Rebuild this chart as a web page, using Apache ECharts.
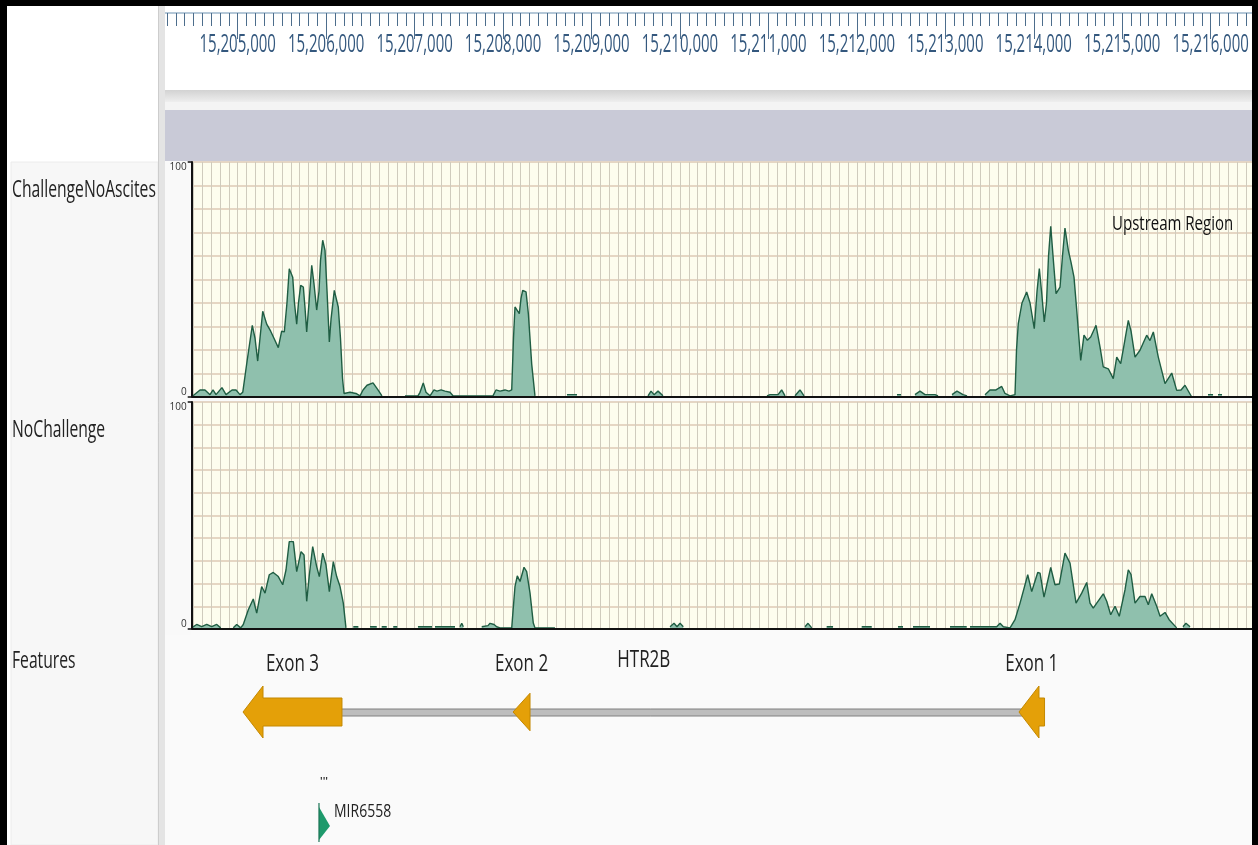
<!DOCTYPE html>
<html>
<head>
<meta charset="utf-8">
<title>HTR2B coverage</title>
<script src="https://cdn.jsdelivr.net/npm/echarts@6/dist/echarts.min.js"></script>
<style>
html, body { margin: 0; padding: 0; background: #fafafa; }
#coverageChart { width: 1258px; height: 845px; }
</style>
</head>
<body>
<div id="coverageChart"></div>
<script>
// read coverage (0-100) along the HTR2B locus, [position bp, coverage]; null = no reads
var challengeNoAscites = [
  [15204495, 0.5], [15204574, 3], [15204630, 3], [15204687, 1], [15204721, 3], [15204755, 1],
  [15204822, 4], [15204868, 1], [15204936, 3], [15204981, 3], [15205026, 1], [15205057, 2],
  [15205105, 15], [15205165, 30.5], [15205196, 25], [15205226, 15.3], [15205252, 25], [15205283, 36.5],
  [15205328, 31], [15205373, 28], [15205410, 25], [15205459, 21], [15205497, 28], [15205527, 27.7],
  [15205557, 40], [15205583, 54.6], [15205622, 51], [15205642, 40], [15205667, 31], [15205687, 40],
  [15205712, 47.5], [15205742, 46.8], [15205761, 38], [15205780, 27.7], [15205806, 40], [15205837, 56],
  [15205863, 48], [15205893, 37], [15205919, 45], [15205936, 58], [15205961, 66.7], [15205987, 62.4],
  [15206010, 45], [15206036, 23.4], [15206055, 33], [15206092, 45.4], [15206137, 38.3], [15206162, 25],
  [15206185, 8], [15206202, 1.5], [15206270, 2], [15206337, 1.5], [15206383, 0.5], [15206417, 3],
  [15206462, 5], [15206530, 6], [15206586, 3], [15206631, 0.5], [15206700, null],
  [15206891, 0.5], [15207038, 0.5], [15207061, 2], [15207098, 6], [15207129, 2], [15207174, 0.5],
  [15207219, 3], [15207253, 2.5], [15207299, 3], [15207344, 2.5], [15207400, 2], [15207434, 0.5],
  [15207739, 0.5], [15207886, 0.5], [15207920, 3], [15207966, 2.5], [15208022, 3], [15208067, 2.5],
  [15208098, 3], [15208118, 25], [15208135, 38.3], [15208158, 37], [15208184, 35.5], [15208203, 42],
  [15208222, 45.4], [15208260, 44.7], [15208286, 35.5], [15208324, 14], [15208361, 0.5], [15208500, null],
  [15208723, 1], [15208836, 1], [15209000, null],
  [15209639, 0.5], [15209673, 2.5], [15209707, 1], [15209752, 2.5], [15209808, 0.5], [15210000, null],
  [15210984, 0.5], [15211018, 1], [15211109, 1], [15211150, 3], [15211188, 0.5], [15211250, null],
  [15211301, 0.5], [15211357, 3], [15211403, 0.5], [15211800, null],
  [15212454, 1], [15212499, 1], [15212580, null],
  [15212657, 1], [15212714, 2.5], [15212771, 1], [15212884, 1], [15212918, 0.5], [15213000, null],
  [15213076, 1], [15213132, 2.5], [15213200, 1], [15213246, 0.5], [15213350, null],
  [15213449, 1], [15213505, 3], [15213573, 3], [15213638, 4.5], [15213675, 1.5], [15213732, 0.5],
  [15213788, 1], [15213805, 20], [15213825, 31.2], [15213867, 40], [15213920, 44.7], [15213958, 40],
  [15214006, 29.1], [15214037, 45], [15214063, 54.6], [15214088, 45], [15214119, 31.9], [15214144, 40],
  [15214167, 60], [15214192, 72.6], [15214218, 60], [15214252, 44], [15214297, 46.8], [15214325, 60],
  [15214353, 71.9], [15214391, 62.4], [15214421, 57.4], [15214455, 51], [15214486, 36.9], [15214531, 15.6],
  [15214568, 26.3], [15214606, 24.1], [15214644, 25.5], [15214704, 30.5], [15214749, 21.3], [15214786, 12.8],
  [15214843, 12], [15214899, 7.8], [15214938, 17], [15214983, 14.2], [15215020, 22], [15215069, 32.6],
  [15215100, 28], [15215145, 17], [15215201, 19.9], [15215277, 26.3], [15215314, 24], [15215352, 27.7],
  [15215408, 17], [15215484, 5.7], [15215560, 10.2], [15215616, 2.8], [15215665, 3], [15215710, 5],
  [15215786, 0], [15215900, null],
  [15215970, 1], [15216027, 1], [15216050, null], [15216083, 1], [15216128, 1]
]

var noChallenge = [
  [15204480, 0.5], [15204536, 2], [15204593, 1], [15204650, 2], [15204706, 1], [15204763, 2],
  [15204808, 0.5], [15204880, null],
  [15204950, 0.5], [15204989, 2], [15205034, 0.5], [15205063, 2], [15205120, 8.5], [15205176, 13.2],
  [15205215, 7], [15205271, 18.7], [15205309, 15.8], [15205357, 23.9], [15205402, 24.9], [15205459, 23.1],
  [15205509, 19.5], [15205546, 26], [15205583, 38.5], [15205629, 38.5], [15205667, 25.3], [15205716, 34.1],
  [15205750, 32.6], [15205780, 12.2], [15205810, 23.9], [15205848, 36.3], [15205893, 27.5], [15205923, 23.1],
  [15205961, 33.4], [15205998, 28.3], [15206036, 16.5], [15206081, 29.7], [15206119, 23.1], [15206157, 18.7],
  [15206194, 11.4], [15206224, 0.5], [15206260, null],
  [15206307, 1], [15206364, 1], [15206420, null], [15206496, 1], [15206572, 1], [15206600, null],
  [15206628, 1], [15206685, 1], [15206720, null], [15206759, 1], [15206804, 1], [15206900, null],
  [15207038, 1], [15207197, 1], [15207215, null], [15207231, 1], [15207457, 1], [15207490, null],
  [15207513, 1], [15207533, 2.5], [15207551, 1], [15207650, null],
  [15207759, 1], [15207830, 1.5], [15207853, 2.5], [15207898, 2], [15207928, 1], [15207966, 0.5],
  [15208098, 0.5], [15208113, 8], [15208135, 18.7], [15208161, 23.4], [15208192, 20.9], [15208237, 27.2],
  [15208267, 25.3], [15208305, 15.8], [15208342, 2.6], [15208361, 0.5], [15208587, 0.5], [15208700, null],
  [15209888, 1], [15209933, 2.5], [15209967, 1], [15210001, 2.5], [15210038, 1], [15210500, null],
  [15211414, 1], [15211448, 2.5], [15211490, 0.5], [15211550, null],
  [15211659, 1], [15211731, 1], [15211900, null], [15212055, 1], [15212168, 1], [15212300, null],
  [15212465, 1], [15212522, 1], [15212580, null], [15212635, 1], [15212827, 1], [15212950, null],
  [15213053, 1], [15213242, 1], [15213260, null],
  [15213279, 1], [15213539, 1], [15213581, 1], [15213619, 2.5], [15213656, 1], [15213732, 0.5],
  [15213751, 1], [15213788, 4.1], [15213845, 11.4], [15213932, 23.9], [15213977, 16.5], [15214045, 24.9],
  [15214071, 24.6], [15214116, 14], [15214192, 27.1], [15214240, 19.5], [15214289, 19.8], [15214353, 33.4],
  [15214410, 29], [15214478, 11.4], [15214542, 15.8], [15214599, 20.5], [15214636, 11.4], [15214673, 9.2],
  [15214712, 11.4], [15214786, 15.5], [15214825, 12.2], [15214870, 6.3], [15214919, 10], [15214967, 5.6],
  [15215032, 17.3], [15215069, 26.1], [15215100, 24], [15215145, 11.4], [15215201, 14.3], [15215258, 14.3],
  [15215295, 10.7], [15215334, 15.5], [15215390, 10], [15215428, 5.6], [15215484, 7.3], [15215531, 4.1],
  [15215616, 0.5], [15215650, null],
  [15215687, 1], [15215721, 2.5], [15215767, 1]
]

var rulerLabels = [15205000, 15206000, 15207000, 15208000, 15209000, 15210000,
  15211000, 15212000, 15213000, 15214000, 15215000, 15216000]
var coverageLabels = [0, 100]
var trackNames = ['ChallengeNoAscites', 'NoChallenge', 'Features']

// features: [start, end, name]; all on minus strand (arrow points left)
var genes = [[15205060, 15214122, 'HTR2B']]
var exons = [[15205060, 15206179, 'Exon 3'], [15208113, 15208305, 'Exon 2'], [15213833, 15214122, 'Exon 1']]
var mirnas = [[15205919, 15206030, 'MIR6558']]
var upstreamNote = [15215570, 73.5, 'Upstream Region']

// layout: one pixel scale shared by ruler and tracks
var refPos = 15205000
var refX = 237.7
var pxPerBp = 0.08845
var trackMin = 15204400
var trackMax = 15216500
var rulerMin = 15204000
var rulerMax = 15217000
function xOf (bp) { return refX + (bp - refPos) * pxPerBp }

var FONT = "'Open Sans', 'Noto Sans', sans-serif"
var tracks = [{ top: 162, height: 235 }, { top: 402, height: 227 }]
var featureTop = 635
var axisX = 191.7

var trackLeft = xOf(trackMin)
var trackWidth = (trackMax - trackMin) * pxPerBp

function trackAxes (gridIndex) {
  return {
    x: [
      {
        gridIndex: gridIndex, type: 'value', min: trackMin, max: trackMax, interval: 100,
        axisLine: { show: false }, axisTick: { show: false }, axisLabel: { show: false },
        splitLine: { show: true, lineStyle: { color: '#cfcbbd', width: 1 } }
      },
      {
        gridIndex: gridIndex, type: 'value', min: trackMin, max: trackMax, position: 'bottom',
        axisLine: { show: true, onZero: false, lineStyle: { color: '#111', width: 2 } },
        axisTick: { show: false }, axisLabel: { show: false }, splitLine: { show: false }, z: 3
      }
    ],
    y: [
      {
        gridIndex: gridIndex, type: 'value', min: 0, max: 100, interval: 10,
        axisLine: { show: false }, axisTick: { show: false }, axisLabel: { show: false },
        splitLine: { show: true, lineStyle: { color: '#dcc8b4', width: 1.5 } }
      },
      {
        gridIndex: gridIndex, type: 'value', min: 0, max: 100, interval: 10, position: 'left',
        offset: -(axisX - trackLeft),
        axisLine: { show: true, onZero: false, lineStyle: { color: '#111', width: 2 } },
        axisTick: { show: true, length: 4, customValues: coverageLabels, lineStyle: { color: '#111', width: 1.5 } },
        axisLabel: {
          show: true, customValues: coverageLabels, margin: 5, fontSize: 10, color: '#333', fontFamily: FONT,
          showMinLabel: true, showMaxLabel: true,
          verticalAlignMinLabel: 'bottom', verticalAlignMaxLabel: 'top'
        },
        splitLine: { show: false }, z: 12
      }
    ]
  }
}

var t1 = trackAxes(1)
var t2 = trackAxes(2)

// the source picture is stretched vertically, so text gets a scaleY
function label (text, x, y, align, size, stretch, color) {
  return {
    type: 'text', x: x, y: y, scaleY: stretch,
    style: { text: text, align: align, verticalAlign: 'middle', fill: color || '#222', font: size + 'px ' + FONT }
  }
}

function renderRulerLabel (params, api) {
  var x = api.coord([api.value(0), 0])[0]
  return label(api.value(0).toLocaleString('en-US'), x, 45, 'center', 15, 1.75, '#34587e')
}

function renderNote (params, api) {
  var p = api.coord([api.value(0), api.value(1)])
  return label(upstreamNote[2], p[0], p[1], 'center', 15, 1.3, '#111')
}

function renderGene (params, api) {
  var x0 = api.coord([api.value(0), 0])[0]
  var x1 = api.coord([api.value(1), 0])[0]
  var top = params.coordSys.y
  return {
    type: 'group',
    children: [
      { type: 'rect', shape: { x: x0 + 20, y: top + 74, width: x1 - x0 - 26, height: 7 }, style: { fill: '#bdbdbd', stroke: '#808080', lineWidth: 1 } },
      label(genes[params.dataIndex][2], (x0 + x1) / 2, top + 25, 'center', 17, 1.35)
    ]
  }
}

function renderExon (params, api) {
  var xs = api.coord([api.value(0), 0])[0]
  var xe = api.coord([api.value(1), 0])[0]
  var cy = params.coordSys.y + 77
  var w = xe - xs
  var head = Math.min(20, w)
  var hh = 26 * (head / 20) * (head / 20)
  var bh = 14
  var pts
  if (w > head) {
    pts = [[xs, cy], [xs + head, cy - hh], [xs + head, cy - bh], [xe, cy - bh], [xe, cy + bh], [xs + head, cy + bh], [xs + head, cy + hh]]
  } else {
    pts = [[xs, cy], [xe, cy - hh], [xe, cy + hh]]
  }
  return {
    type: 'group',
    children: [
      { type: 'polygon', shape: { points: pts }, style: { fill: '#e4a008', stroke: '#c48800', lineWidth: 1 } },
      label(exons[params.dataIndex][2], (xs + xe) / 2, params.coordSys.y + 29, 'center', 17, 1.35)
    ]
  }
}

function renderMir (params, api) {
  var x = api.coord([api.value(0), 0])[0]
  var top = params.coordSys.y
  return {
    type: 'group',
    children: [
      { type: 'text', x: x + 1, y: top + 147, style: { text: "'''", align: 'left', verticalAlign: 'middle', fill: '#333', font: 'bold 10px ' + FONT } },
      { type: 'polygon', shape: { points: [[x, top + 172], [x + 11, top + 191], [x, top + 205]] }, style: { fill: '#1e9a6c' } },
      { type: 'line', shape: { x1: x, y1: top + 168, x2: x, y2: top + 207 }, style: { stroke: '#1b7455', lineWidth: 1.2 } },
      label(mirnas[params.dataIndex][2], x + 15, top + 177, 'left', 14, 1.3)
    ]
  }
}

var trackLabelY = [190, 430, 661]
var graphics = [
  { type: 'rect', z: 1, shape: { x: 165, y: 0, width: 1093, height: 90 }, style: { fill: '#ffffff' } },
  {
    type: 'rect', z: 1, shape: { x: 165, y: 90, width: 1093, height: 12 },
    style: { fill: new echarts.graphic.LinearGradient(0, 0, 0, 1, [{ offset: 0, color: '#d2d2d2' }, { offset: 1, color: '#eeeeee' }]) }
  },
  { type: 'rect', z: 1, shape: { x: 165, y: 102, width: 1093, height: 8 }, style: { fill: '#f4f4f4' } },
  { type: 'rect', z: 1, shape: { x: 165, y: 110, width: 1093, height: 51 }, style: { fill: '#c9cad7' } },
  // cover left of the coverage axis
  { type: 'rect', z: 10, shape: { x: 165, y: 161, width: axisX - 165, height: 474 }, style: { fill: '#f9f9f9' } },
  // label panel
  { type: 'rect', z: 10, shape: { x: 0, y: 0, width: 165, height: 845 }, style: { fill: '#ffffff' } },
  { type: 'rect', z: 11, shape: { x: 11, y: 162, width: 147, height: 683 }, style: { fill: '#f7f7f7', stroke: '#ececec', lineWidth: 1 } },
  { type: 'rect', z: 11, shape: { x: 158, y: 0, width: 7, height: 845 }, style: { fill: '#e4e4e4' } },
  { type: 'line', z: 11, shape: { x1: 158.5, y1: 0, x2: 158.5, y2: 845 }, style: { stroke: '#cdcdcd', lineWidth: 1 } },
  // frame
  { type: 'rect', z: 20, shape: { x: 0, y: 0, width: 1258, height: 6 }, style: { fill: '#000' } },
  { type: 'rect', z: 20, shape: { x: 0, y: 0, width: 7, height: 845 }, style: { fill: '#000' } },
  { type: 'rect', z: 20, shape: { x: 1252, y: 0, width: 6, height: 845 }, style: { fill: '#000' } }
]
trackNames.forEach(function (name, i) {
  var t = label(name, 12, trackLabelY[i], 'left', 15.7, 1.5)
  t.z = 21
  graphics.push(t)
})

var option = {
  backgroundColor: '#fafafa',
  animation: false,
  grid: [
    { left: xOf(rulerMin), width: (rulerMax - rulerMin) * pxPerBp, top: 13, height: 70, outerBoundsMode: 'none', containLabel: false },
    { left: trackLeft, width: trackWidth, top: tracks[0].top, height: tracks[0].height, show: true, backgroundColor: '#fdfdee', borderWidth: 0, outerBoundsMode: 'none', containLabel: false },
    { left: trackLeft, width: trackWidth, top: tracks[1].top, height: tracks[1].height, show: true, backgroundColor: '#fdfdee', borderWidth: 0, outerBoundsMode: 'none', containLabel: false },
    { left: trackLeft, width: trackWidth, top: featureTop, height: 210, outerBoundsMode: 'none', containLabel: false }
  ],
  xAxis: [
    {
      gridIndex: 0, type: 'value', position: 'top', min: rulerMin, max: rulerMax, interval: 1000, z: 2,
      axisLine: { show: true, onZero: false, lineStyle: { color: '#9db6cc', width: 1.5 } },
      axisTick: { show: true, inside: true, length: 26, lineStyle: { color: '#4d6d8c', width: 1 } },
      minorTick: { show: true, splitNumber: 10, length: 13, lineStyle: { color: '#4d6d8c', width: 1 } },
      axisLabel: { show: false },
      splitLine: { show: false }
    },
    t1.x[0], t1.x[1], t2.x[0], t2.x[1],
    { gridIndex: 3, type: 'value', min: trackMin, max: trackMax, show: false }
  ],
  yAxis: [
    { gridIndex: 0, type: 'value', min: 0, max: 1, show: false },
    t1.y[0], t1.y[1], t2.y[0], t2.y[1],
    { gridIndex: 3, type: 'value', min: 0, max: 1, show: false }
  ],
  graphic: { elements: graphics },
  series: [
    {
      name: 'ruler', type: 'custom', xAxisIndex: 0, yAxisIndex: 0, clip: false, z: 3,
      renderItem: renderRulerLabel, data: rulerLabels.map(function (v) { return [v, 0] })
    },
    {
      name: 'ChallengeNoAscites', type: 'line', xAxisIndex: 1, yAxisIndex: 1, data: challengeNoAscites,
      symbol: 'none', connectNulls: false, z: 2,
      lineStyle: { color: '#1f5d43', width: 1.4 },
      areaStyle: { color: '#8fc0ad', opacity: 1 }
    },
    {
      name: 'note', type: 'custom', xAxisIndex: 1, yAxisIndex: 1, clip: false, z: 4,
      renderItem: renderNote, data: [[upstreamNote[0], upstreamNote[1]]]
    },
    {
      name: 'NoChallenge', type: 'line', xAxisIndex: 3, yAxisIndex: 3, data: noChallenge,
      symbol: 'none', connectNulls: false, z: 2,
      lineStyle: { color: '#1f5d43', width: 1.4 },
      areaStyle: { color: '#8fc0ad', opacity: 1 }
    },
    { name: 'gene', type: 'custom', xAxisIndex: 5, yAxisIndex: 5, clip: false, z: 2, renderItem: renderGene, encode: { x: [0, 1] }, data: genes.map(function (g) { return [g[0], g[1]] }) },
    { name: 'exons', type: 'custom', xAxisIndex: 5, yAxisIndex: 5, clip: false, z: 3, renderItem: renderExon, encode: { x: [0, 1] }, data: exons.map(function (e) { return [e[0], e[1]] }) },
    { name: 'mirna', type: 'custom', xAxisIndex: 5, yAxisIndex: 5, clip: false, z: 3, renderItem: renderMir, encode: { x: [0, 1] }, data: mirnas.map(function (m) { return [m[0], m[1]] }) }
  ]
}

var coverageChart = echarts.init(document.getElementById('coverageChart'))
coverageChart.setOption(option)
</script>
</body>
</html>
